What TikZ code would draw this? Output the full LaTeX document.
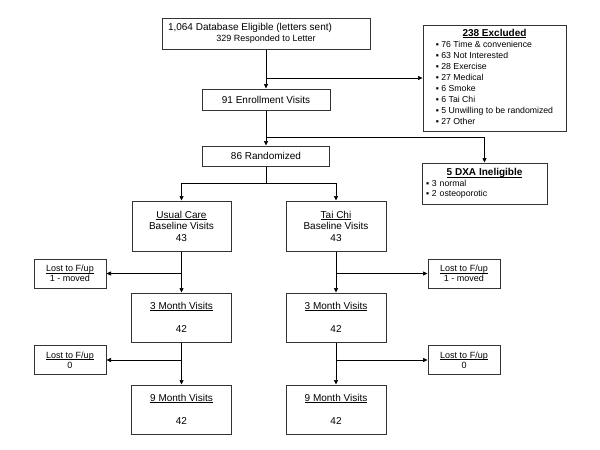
\documentclass[tikz,border=0pt]{standalone}
\usepackage{fontspec}
\setmainfont{Liberation Sans}
\usetikzlibrary{arrows.meta}
% underline that sits close to the baseline
\newcommand{\ulin}[1]{\setbox0=\hbox{#1}\rlap{\rule[-1.4pt]{\wd0}{.5pt}}\box0}

\begin{document}
\begin{tikzpicture}[x=1pt,y=-1pt,line width=.7pt,
    box/.style={draw=black!80,line width=1pt,fill=white,align=center,inner sep=2pt,
      font=\fontsize{10}{11.5}\selectfont},
    visitbox/.style={box,minimum width=100pt,minimum height=49pt},
    lostbox/.style={box,minimum width=72pt,minimum height=29pt,font=\fontsize{9}{10}\selectfont},
    arr/.style={-{Triangle[length=4.5pt,width=4pt]}}]
\useasboundingbox (0,0) rectangle (600,450);

% top of the chart
\node[box,minimum width=208pt,minimum height=31pt] (top) at (266,33.5)
  {\makebox[196pt][l]{1,064 Database Eligible (letters sent)}\\{\fontsize{9}{11}\selectfont 329 Responded to Letter}};
\node[box,minimum width=143pt,minimum height=106pt,font=\fontsize{8.7}{11}\selectfont] (excl) at (494.5,78)
  {\begin{tabular}{@{}l@{}}
   \multicolumn{1}{c}{\fontsize{10}{11}\selectfont\bfseries\ulin{238 Excluded}}\\
   ▪ 76 Time \& convenience\\
   ▪ 63 Not Interested\\
   ▪ 28 Exercise\\
   ▪ 27 Medical\\
   ▪ 6 Smoke\\
   ▪ 6 Tai Chi\\
   ▪ 5 Unwilling to be randomized\\
   ▪ 27 Other
   \end{tabular}};
\node[box,minimum width=128pt,minimum height=21pt] (enroll) at (266,99.5) {91 Enrollment Visits};
\node[box,minimum width=127pt,minimum height=20pt] (rand) at (266,156) {86 Randomized};
\node[box,minimum width=125pt,minimum height=41pt,text width=117pt,inner xsep=4pt,align=left,
      font=\fontsize{8.7}{10.5}\selectfont] (dxa) at (484.5,183.5)
  {\makebox[117pt]{\fontsize{10}{11}\selectfont\bfseries\ulin{5 DXA Ineligible}}\\▪ 3 normal\\▪ 2 osteoporotic};

\coordinate (j2) at (266,137);
\coordinate (j3) at (266,183);

% the two arms
\node[box,minimum width=99pt,minimum height=50pt] (usual) at (181.5,226) {\ulin{Usual Care}\\Baseline Visits\\43};
\node[box,minimum width=100pt,minimum height=50pt] (taichi) at (336,226) {\ulin{Tai Chi}\\Baseline Visits\\43};
\node[visitbox] (m3L) at (181.5,317.5) {\ulin{3 Month Visits}\\[12pt]42};
\node[visitbox] (m3R) at (336,317.5) {\ulin{3 Month Visits}\\[12pt]42};
\node[visitbox] (m9L) at (181.5,409.5) {\ulin{9 Month Visits}\\[12pt]42};
\node[visitbox] (m9R) at (336,409.5) {\ulin{9 Month Visits}\\[12pt]42};
\node[lostbox] (lostL1) at (70,273.5) {\ulin{Lost to F/up}\\1 - moved};
\node[lostbox] (lostL2) at (70,360) {\ulin{Lost to F/up}\\0};
\node[lostbox] (lostR1) at (464,273.5) {\ulin{Lost to F/up}\\1 - moved};
\node[lostbox] (lostR2) at (464,360) {\ulin{Lost to F/up}\\0};

\draw[arr] (top) -- (enroll);
\draw[arr] (top.south |- excl.west) -- (excl.west);
\draw[arr] (enroll) -- (rand);
\draw[arr] (j2) -| (dxa);
\draw (rand) -- (j3);
\draw[arr] (j3) -| (usual);
\draw[arr] (j3) -| (taichi);
\draw[arr] (usual) -- (m3L);
\draw[arr] (m3L) -- (m9L);
\draw[arr] (taichi) -- (m3R);
\draw[arr] (m3R) -- (m9R);
\draw[arr] (usual.south |- lostL1) -- (lostL1);
\draw[arr] (m3L.south |- lostL2) -- (lostL2);
\draw[arr] (taichi.south |- lostR1) -- (lostR1);
\draw[arr] (m3R.south |- lostR2) -- (lostR2);
\end{tikzpicture}
\end{document}
